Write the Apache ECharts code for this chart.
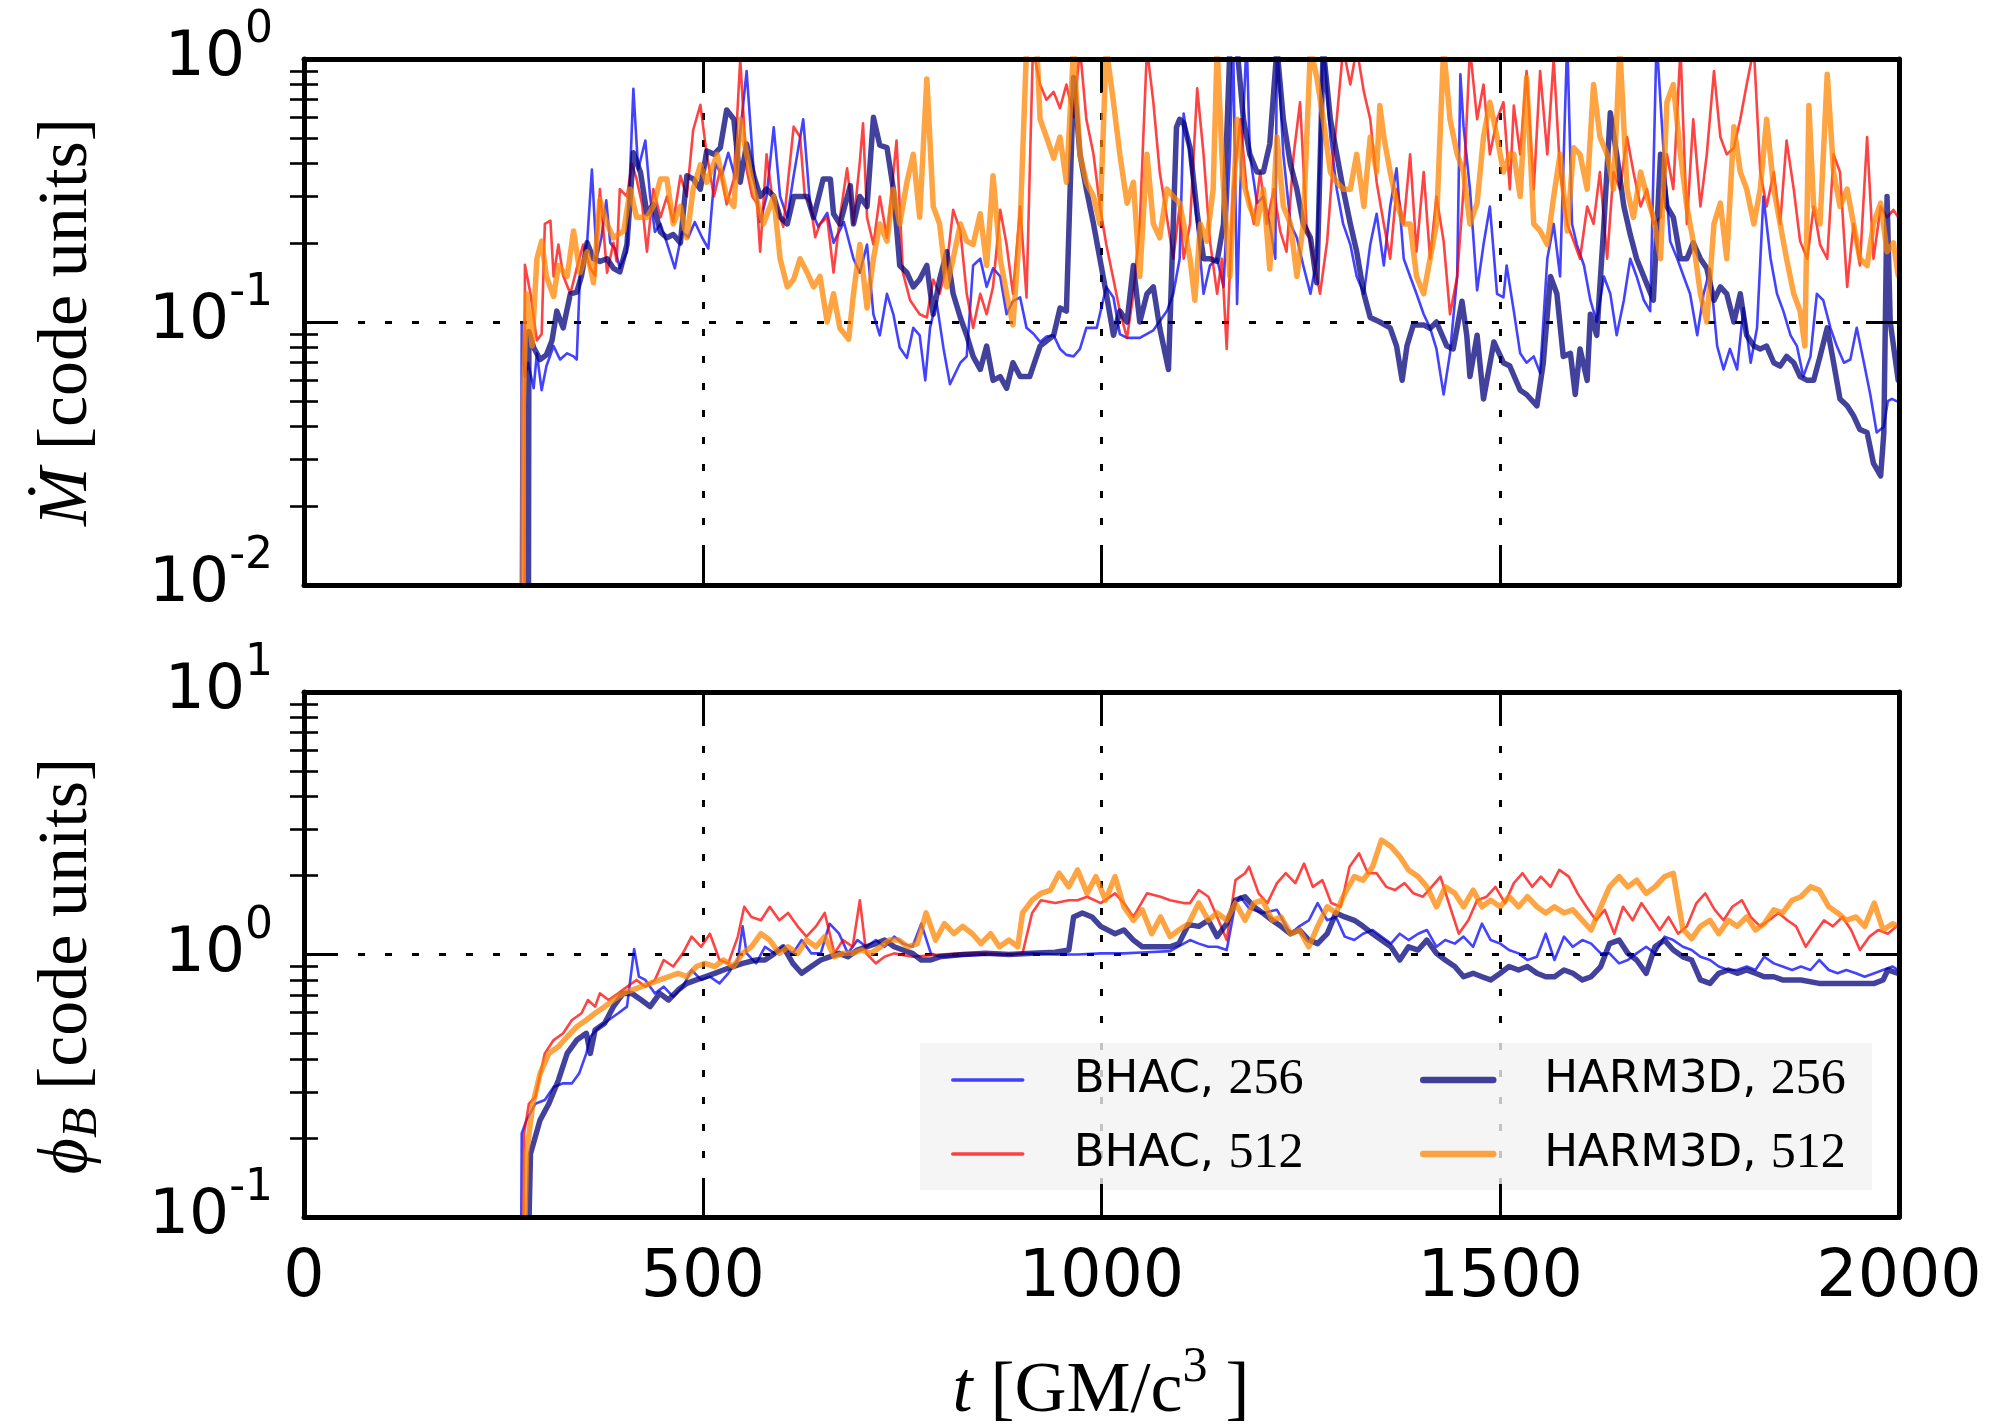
<!DOCTYPE html>
<html>
<head>
<meta charset="utf-8">
<script src="https://cdn.jsdelivr.net/npm/echarts@6/dist/echarts.min.js"></script>
<style>
html,body{margin:0;padding:0;background:#ffffff;}
#chart{width:2002px;height:1426px;}
</style>
</head>
<body>
<div id="chart"></div>
<script>
// ---------------- data (t [GM/c^3], value) ----------------
const xTickValues = [0, 500, 1000, 1500, 2000];
const mdotRange = [0.01, 1];
const phiRange = [0.1, 10];
const mdotMinorTicks = [0.02,0.03,0.04,0.05,0.06,0.07,0.08,0.09,0.2,0.3,0.4,0.5,0.6,0.7,0.8,0.9];
const phiMinorTicks = [0.2,0.3,0.4,0.5,0.6,0.7,0.8,0.9,2,3,4,5,6,7,8,9];
const seriesNames = ['BHAC, 256', 'BHAC, 512', 'HARM3D, 256', 'HARM3D, 512'];

const mdot_bhac256 = [[271,0.001],[273,0.098],[277,0.062],[281,0.07],[288,0.056],[292,0.076],[298,0.055],[304,0.068],[313,0.081],[321,0.072],[330,0.076],[338,0.074],[342,0.072],[346,0.15],[355,0.2],[361,0.38],[367,0.174],[373,0.21],[379,0.29],[384,0.2],[390,0.19],[396,0.16],[405,0.185],[413,0.77],[419,0.38],[428,0.49],[434,0.3],[440,0.22],[447,0.236],[455,0.2],[465,0.16],[474,0.22],[482,0.21],[490,0.24],[499,0.21],[507,0.19],[516,0.4],[524,0.36],[532,0.44],[541,0.35],[555,0.9],[564,0.37],[572,0.24],[580,0.3],[589,0.55],[597,0.3],[606,0.25],[614,0.36],[626,0.59],[635,0.27],[645,0.23],[656,0.26],[664,0.2],[677,0.24],[689,0.174],[697,0.154],[706,0.197],[714,0.107],[722,0.089],[731,0.128],[739,0.107],[747,0.08],[756,0.073],[764,0.095],[772,0.089],[779,0.06],[785,0.095],[793,0.12],[802,0.079],[810,0.058],[823,0.07],[831,0.074],[839,0.164],[848,0.174],[856,0.136],[864,0.16],[873,0.149],[881,0.107],[889,0.12],[898,0.124],[906,0.095],[915,0.09],[923,0.084],[931,0.088],[940,0.089],[948,0.079],[956,0.075],[965,0.074],[973,0.079],[981,0.095],[994,0.095],[1006,0.136],[1015,0.124],[1023,0.09],[1032,0.087],[1048,0.087],[1065,0.093],[1082,0.11],[1090,0.128],[1098,0.174],[1103,0.62],[1111,0.434],[1120,0.236],[1128,0.128],[1136,0.164],[1145,0.174],[1153,0.136],[1161,0.434],[1165,1.2],[1170,0.117],[1174,0.32],[1182,1.2],[1186,0.434],[1195,0.283],[1203,0.3],[1211,0.236],[1218,0.174],[1220,1.2],[1228,0.434],[1237,0.236],[1245,0.209],[1253,0.164],[1262,0.128],[1270,0.174],[1278,1.2],[1287,0.505],[1295,0.32],[1303,0.236],[1312,0.197],[1320,0.149],[1329,0.128],[1337,0.197],[1345,0.258],[1354,0.164],[1362,0.275],[1370,0.384],[1379,0.174],[1387,0.149],[1395,0.128],[1404,0.107],[1412,0.095],[1420,0.079],[1429,0.053],[1437,0.076],[1446,0.149],[1450,0.875],[1454,0.553],[1462,0.32],[1471,0.132],[1479,0.197],[1487,0.275],[1496,0.128],[1504,0.124],[1508,0.164],[1517,0.11],[1525,0.076],[1533,0.07],[1542,0.074],[1550,0.064],[1559,0.174],[1567,0.236],[1575,0.149],[1584,1.2],[1590,0.236],[1596,0.197],[1605,0.164],[1613,0.121],[1621,0.1],[1630,0.149],[1638,0.128],[1646,0.089],[1655,0.121],[1663,0.174],[1671,0.149],[1680,0.121],[1688,0.11],[1696,1.2],[1705,0.434],[1713,0.203],[1722,0.174],[1730,0.149],[1738,0.128],[1747,0.089],[1755,0.128],[1763,0.159],[1772,0.081],[1780,0.066],[1788,0.079],[1797,0.066],[1805,0.113],[1814,0.07],[1822,0.095],[1830,0.3],[1839,0.174],[1847,0.128],[1855,0.11],[1864,0.089],[1872,0.081],[1880,0.062],[1889,0.074],[1897,0.128],[1905,0.121],[1914,0.095],[1922,0.081],[1931,0.07],[1939,0.072],[1947,0.095],[1956,0.07],[1964,0.053],[1972,0.038],[1981,0.04],[1986,0.05],[1991,0.051],[1997,0.05]];

const mdot_bhac512 = [[276,0.001],[277,0.165],[284,0.128],[292,0.085],[298,0.09],[302,0.236],[309,0.243],[313,0.149],[319,0.197],[325,0.15],[334,0.128],[342,0.16],[350,0.197],[359,0.16],[365,0.15],[371,0.32],[380,0.154],[388,0.2],[392,0.17],[396,0.32],[405,0.3],[411,0.4],[417,0.35],[424,0.28],[430,0.185],[438,0.32],[447,0.25],[455,0.3],[463,0.24],[472,0.36],[480,0.3],[488,0.537],[497,0.67],[505,0.434],[514,0.3],[522,0.38],[530,0.28],[539,0.35],[547,1.0],[555,0.38],[562,0.3],[568,0.283],[572,0.185],[580,0.434],[587,0.3],[593,0.275],[601,0.23],[614,0.553],[622,0.505],[628,0.3],[635,0.283],[641,0.21],[647,0.236],[656,0.25],[664,0.154],[672,0.25],[681,0.384],[689,0.236],[697,0.408],[701,0.57],[706,0.25],[714,0.197],[722,0.3],[731,0.209],[743,0.49],[751,0.154],[760,0.121],[772,0.107],[781,0.104],[789,0.145],[797,0.128],[806,0.164],[814,0.267],[823,0.222],[831,0.128],[839,0.095],[848,0.128],[856,0.107],[864,0.136],[873,0.267],[881,0.197],[889,0.128],[898,0.275],[906,0.124],[914,1.1],[923,0.8],[931,0.7],[940,0.75],[948,0.65],[956,0.8],[965,0.6],[973,1.1],[981,0.59],[990,0.434],[998,0.275],[1006,0.197],[1015,0.145],[1023,0.11],[1032,0.087],[1040,0.128],[1048,0.236],[1057,1.1],[1065,0.685],[1073,0.372],[1082,0.25],[1090,0.174],[1098,0.275],[1103,0.174],[1111,0.236],[1120,0.774],[1128,0.434],[1136,0.203],[1145,0.128],[1151,0.174],[1157,0.079],[1165,0.32],[1174,0.59],[1182,0.32],[1191,0.236],[1199,0.372],[1207,0.236],[1216,0.32],[1224,0.222],[1232,0.185],[1241,0.434],[1249,0.685],[1257,0.236],[1266,0.174],[1274,0.128],[1283,0.203],[1291,0.434],[1303,1.1],[1312,0.8],[1320,1.1],[1329,0.75],[1337,0.59],[1345,0.34],[1354,0.236],[1362,0.174],[1370,0.32],[1379,0.236],[1387,0.434],[1395,0.185],[1404,0.372],[1412,0.174],[1420,0.3],[1429,0.203],[1437,0.107],[1446,0.149],[1454,0.32],[1462,1.1],[1471,0.59],[1479,0.8],[1487,0.434],[1496,0.59],[1504,0.685],[1512,0.32],[1517,0.665],[1525,0.434],[1533,0.9],[1542,0.32],[1550,0.9],[1559,0.434],[1567,1.0],[1575,0.372],[1584,0.236],[1592,0.203],[1600,0.174],[1609,0.275],[1617,0.236],[1625,0.372],[1634,0.174],[1642,0.372],[1650,0.32],[1659,0.505],[1667,0.372],[1676,0.275],[1684,0.32],[1692,0.236],[1701,0.25],[1709,0.434],[1717,0.32],[1726,1.1],[1734,0.236],[1742,0.59],[1751,0.275],[1759,0.434],[1768,0.9],[1776,0.505],[1784,0.434],[1793,0.46],[1801,0.59],[1809,0.8],[1818,1.1],[1826,0.372],[1834,0.275],[1843,0.372],[1851,0.236],[1859,0.49],[1868,0.32],[1876,0.203],[1885,0.174],[1893,0.275],[1901,0.197],[1910,0.174],[1918,0.434],[1926,0.372],[1935,0.136],[1943,0.236],[1951,0.164],[1960,0.505],[1968,0.174],[1977,0.275],[1985,0.25],[1993,0.267],[1999,0.25]];

const mdot_harm256 = [[281,0.001],[282,0.092],[288,0.08],[296,0.072],[304,0.075],[311,0.085],[317,0.11],[325,0.095],[334,0.128],[342,0.13],[348,0.15],[355,0.2],[363,0.174],[371,0.17],[380,0.174],[388,0.16],[396,0.155],[405,0.197],[413,0.44],[422,0.37],[430,0.258],[438,0.28],[447,0.22],[455,0.209],[463,0.215],[472,0.2],[480,0.36],[488,0.35],[497,0.32],[505,0.447],[514,0.434],[522,0.46],[530,0.64],[539,0.59],[547,0.34],[555,0.475],[564,0.36],[572,0.3],[580,0.32],[589,0.3],[597,0.25],[606,0.236],[614,0.3],[622,0.3],[631,0.3],[639,0.25],[651,0.35],[660,0.35],[664,0.258],[672,0.236],[685,0.33],[689,0.236],[697,0.3],[706,0.275],[714,0.6],[722,0.47],[731,0.46],[739,0.32],[747,0.164],[756,0.154],[764,0.136],[772,0.145],[781,0.164],[789,0.107],[797,0.145],[806,0.185],[814,0.128],[823,0.104],[831,0.089],[839,0.074],[848,0.066],[856,0.081],[864,0.06],[873,0.062],[881,0.056],[889,0.07],[898,0.062],[910,0.062],[923,0.081],[940,0.089],[948,0.113],[956,0.11],[965,0.85],[973,0.434],[981,0.32],[990,0.236],[998,0.174],[1006,0.128],[1015,0.089],[1023,0.11],[1032,0.1],[1040,0.164],[1048,0.1],[1057,0.128],[1065,0.136],[1073,0.095],[1084,0.066],[1090,0.236],[1094,0.55],[1098,0.59],[1103,0.57],[1111,0.46],[1120,0.258],[1128,0.174],[1136,0.174],[1145,0.17],[1153,0.236],[1161,1.1],[1170,1.1],[1178,0.59],[1186,0.434],[1195,0.372],[1203,0.372],[1211,0.475],[1220,1.1],[1228,0.59],[1237,0.396],[1245,0.32],[1253,0.236],[1262,0.209],[1270,0.141],[1278,1.1],[1287,0.59],[1295,0.434],[1303,0.32],[1312,0.236],[1320,0.185],[1329,0.128],[1337,0.104],[1349,0.1],[1362,0.095],[1370,0.081],[1377,0.06],[1383,0.081],[1391,0.0975],[1404,0.0975],[1412,0.0946],[1420,0.1],[1433,0.081],[1441,0.079],[1452,0.12],[1458,0.089],[1462,0.062],[1471,0.089],[1479,0.051],[1492,0.084],[1504,0.07],[1512,0.068],[1525,0.055],[1533,0.053],[1546,0.048],[1554,0.07],[1563,0.149],[1571,0.128],[1579,0.074],[1588,0.076],[1594,0.053],[1600,0.079],[1609,0.06],[1613,0.107],[1621,0.089],[1630,0.236],[1638,0.625],[1646,0.434],[1655,0.275],[1663,0.215],[1671,0.174],[1680,0.149],[1692,0.121],[1701,0.434],[1709,0.275],[1717,0.25],[1726,0.174],[1734,0.174],[1742,0.2],[1751,0.174],[1759,0.16],[1768,0.121],[1776,0.136],[1784,0.128],[1793,0.1],[1801,0.128],[1809,0.089],[1818,0.081],[1826,0.079],[1834,0.081],[1843,0.07],[1851,0.068],[1859,0.074],[1868,0.07],[1876,0.062],[1885,0.06],[1893,0.06],[1901,0.074],[1910,0.095],[1918,0.07],[1926,0.051],[1935,0.048],[1943,0.044],[1951,0.039],[1960,0.038],[1968,0.029],[1977,0.026],[1981,0.038],[1985,0.3],[1989,0.1],[1999,0.06]];

const mdot_harm512 = [[274,0.001],[275,0.05],[279,0.128],[286,0.081],[292,0.174],[298,0.203],[304,0.149],[313,0.125],[319,0.164],[330,0.149],[338,0.222],[346,0.154],[355,0.185],[363,0.141],[371,0.292],[380,0.236],[388,0.209],[401,0.222],[409,0.32],[417,0.25],[430,0.25],[438,0.275],[447,0.35],[455,0.35],[463,0.236],[472,0.275],[480,0.209],[488,0.32],[497,0.396],[505,0.34],[518,0.434],[530,0.3],[539,0.275],[547,0.59],[555,0.434],[564,0.32],[576,0.236],[589,0.3],[597,0.174],[606,0.136],[614,0.145],[622,0.174],[631,0.154],[639,0.136],[647,0.149],[656,0.1],[664,0.128],[672,0.0946],[683,0.086],[689,0.128],[697,0.197],[706,0.113],[714,0.174],[722,0.236],[731,0.203],[739,0.32],[747,0.236],[756,0.34],[764,0.434],[772,0.25],[781,0.84],[789,0.275],[797,0.236],[806,0.136],[814,0.174],[823,0.236],[831,0.203],[839,0.197],[848,0.258],[856,0.164],[864,0.36],[873,0.174],[881,0.128],[889,0.0975],[898,0.236],[906,1.1],[919,1.1],[923,0.59],[931,0.505],[940,0.42],[948,0.505],[956,0.34],[965,1.1],[973,0.434],[981,0.34],[990,0.3],[998,0.236],[1006,1.1],[1015,0.685],[1023,0.434],[1032,0.283],[1040,0.34],[1048,0.149],[1057,0.434],[1065,0.236],[1073,0.209],[1082,0.32],[1090,0.3],[1098,0.283],[1103,0.236],[1111,0.174],[1117,0.121],[1124,0.236],[1132,0.203],[1140,0.32],[1145,1.1],[1153,0.32],[1161,0.149],[1170,0.59],[1178,0.34],[1186,0.275],[1195,0.236],[1203,0.32],[1211,0.159],[1220,0.505],[1228,0.275],[1237,0.236],[1245,0.149],[1253,0.236],[1262,1.1],[1270,0.85],[1278,0.59],[1287,0.372],[1295,0.34],[1303,0.32],[1312,0.32],[1320,0.434],[1329,0.275],[1337,0.505],[1345,0.372],[1349,0.665],[1354,0.505],[1362,0.372],[1370,0.283],[1379,0.236],[1387,0.236],[1395,0.149],[1404,0.128],[1412,0.174],[1420,0.236],[1429,1.1],[1437,0.59],[1446,0.434],[1454,0.372],[1462,0.236],[1471,0.283],[1479,0.505],[1487,0.685],[1496,0.505],[1504,0.372],[1512,0.434],[1517,0.434],[1525,0.3],[1533,0.85],[1542,0.236],[1550,0.222],[1559,0.197],[1567,0.3],[1575,0.434],[1584,0.222],[1592,0.46],[1600,0.434],[1609,0.32],[1617,0.8],[1625,0.505],[1634,0.434],[1642,0.32],[1650,1.1],[1659,0.32],[1667,0.25],[1676,0.372],[1684,0.3],[1692,0.25],[1701,0.174],[1709,0.685],[1717,0.8],[1726,0.434],[1734,0.275],[1742,0.203],[1751,0.128],[1759,0.1],[1768,0.236],[1776,0.283],[1784,0.174],[1793,0.553],[1801,0.372],[1809,0.32],[1818,0.236],[1826,0.32],[1834,0.59],[1843,0.32],[1851,0.236],[1859,0.174],[1868,0.128],[1876,0.11],[1882,0.081],[1887,0.665],[1893,0.275],[1901,0.236],[1910,0.875],[1918,0.372],[1926,0.275],[1935,0.32],[1943,0.236],[1951,0.174],[1960,0.164],[1968,0.236],[1977,0.283],[1985,0.185],[1993,0.2],[1999,0.15]];

const phi_bhac256 = [[272,0.05],[273,0.208],[279,0.234],[290,0.27],[302,0.279],[313,0.313],[325,0.323],[336,0.323],[345,0.352],[354,0.42],[359,0.486],[371,0.531],[382,0.563],[394,0.597],[405,0.633],[414,1.05],[420,0.823],[428,0.8],[440,0.711],[451,0.754],[463,0.69],[475,0.754],[486,0.873],[498,0.8],[509,0.823],[521,0.776],[532,0.848],[544,0.953],[550,1.28],[555,1.01],[567,0.925],[578,1.07],[590,1.01],[601,1.07],[613,1.01],[624,1.135],[636,1.01],[648,1.01],[659,1.31],[671,1.2],[682,1.01],[694,1.135],[705,1.07],[717,1.135],[728,1.07],[740,1.17],[751,1.1],[763,1.07],[774,1.31],[786,1.01],[797,0.98],[826,0.99],[855,1.0],[884,1.0],[913,1.01],[942,1.0],[970,1.0],[999,1.01],[1028,1.01],[1057,1.02],[1086,1.03],[1111,1.135],[1122,1.1],[1134,1.07],[1145,1.07],[1157,1.04],[1168,1.57],[1174,1.66],[1185,1.5],[1202,1.44],[1220,1.48],[1237,1.2],[1248,1.28],[1260,1.35],[1271,1.57],[1283,1.35],[1294,1.39],[1305,1.17],[1317,1.135],[1328,1.2],[1340,1.24],[1351,1.17],[1363,1.1],[1374,1.2],[1385,1.135],[1397,1.2],[1408,1.24],[1420,1.07],[1431,1.135],[1443,1.1],[1454,1.17],[1466,1.07],[1477,1.31],[1488,1.135],[1500,1.1],[1511,1.04],[1523,1.01],[1534,0.953],[1546,0.98],[1557,1.2],[1568,0.953],[1580,1.17],[1591,1.07],[1603,1.135],[1614,1.1],[1626,1.01],[1637,1.01],[1649,0.925],[1660,0.953],[1671,1.01],[1683,1.07],[1694,1.01],[1706,1.17],[1717,1.135],[1729,1.07],[1740,1.04],[1751,0.98],[1763,0.953],[1774,0.9],[1786,0.873],[1797,0.873],[1809,0.9],[1820,0.873],[1831,0.98],[1843,0.925],[1854,0.9],[1866,0.873],[1877,0.9],[1889,0.873],[1900,0.953],[1912,0.873],[1923,0.848],[1934,0.873],[1946,0.848],[1957,0.823],[1969,0.848],[1980,0.873],[1992,0.9],[1999,0.873]];

const phi_bhac512 = [[275,0.05],[276,0.208],[282,0.27],[290,0.287],[302,0.42],[313,0.472],[325,0.501],[336,0.563],[348,0.597],[356,0.671],[365,0.633],[371,0.711],[382,0.671],[394,0.711],[405,0.754],[417,0.8],[428,0.754],[440,0.8],[451,0.953],[463,0.9],[475,1.01],[486,1.17],[498,1.07],[509,1.2],[521,0.953],[532,0.925],[544,1.17],[552,1.52],[561,1.39],[573,1.35],[584,1.52],[596,1.35],[607,1.44],[619,1.28],[630,1.17],[642,1.28],[653,1.44],[665,1.01],[676,1.135],[688,1.07],[697,1.61],[705,1.01],[717,0.925],[728,0.98],[740,1.01],[763,0.98],[797,1.0],[826,1.01],[855,1.01],[884,1.0],[901,1.01],[913,1.44],[924,1.61],[942,1.57],[959,1.61],[970,1.61],[982,1.66],[999,1.57],[1017,1.71],[1028,1.57],[1040,1.39],[1057,1.71],[1074,1.66],[1086,1.61],[1103,1.57],[1111,1.57],[1122,1.76],[1134,1.66],[1145,1.39],[1157,1.135],[1168,1.92],[1180,2.04],[1185,2.16],[1197,1.71],[1208,1.57],[1220,1.87],[1231,2.04],[1243,1.87],[1254,2.22],[1265,1.81],[1277,1.92],[1288,1.57],[1300,1.52],[1311,2.16],[1323,2.43],[1334,2.04],[1345,2.04],[1357,1.81],[1368,1.76],[1380,1.87],[1391,1.71],[1403,1.66],[1414,1.81],[1425,1.98],[1437,1.52],[1448,1.2],[1460,1.35],[1471,1.61],[1483,1.66],[1494,1.81],[1506,1.57],[1517,1.87],[1528,2.04],[1540,1.81],[1551,1.98],[1563,1.81],[1574,2.1],[1586,1.98],[1597,1.71],[1608,1.52],[1620,1.35],[1631,1.48],[1643,1.2],[1654,1.52],[1666,1.35],[1677,1.57],[1689,1.39],[1700,1.24],[1711,1.39],[1723,1.2],[1734,1.28],[1746,1.57],[1757,1.71],[1769,1.48],[1780,1.35],[1791,1.52],[1803,1.61],[1814,1.39],[1826,1.28],[1837,1.35],[1849,1.44],[1860,1.35],[1871,1.28],[1883,1.07],[1894,1.2],[1906,1.35],[1917,1.28],[1929,1.39],[1940,1.24],[1951,1.04],[1963,1.17],[1974,1.24],[1986,1.2],[1997,1.28]];

const phi_harm256 = [[280,0.05],[284,0.174],[296,0.234],[307,0.27],[319,0.332],[330,0.42],[342,0.472],[354,0.501],[359,0.42],[365,0.516],[377,0.547],[388,0.633],[400,0.711],[411,0.711],[423,0.671],[434,0.633],[446,0.711],[457,0.671],[469,0.732],[480,0.776],[492,0.8],[503,0.823],[515,0.848],[526,0.873],[538,0.9],[550,0.925],[567,0.953],[578,0.953],[590,1.01],[601,1.07],[613,0.925],[624,0.848],[636,0.9],[648,0.953],[659,0.98],[671,1.01],[682,0.98],[694,1.04],[705,1.07],[717,1.1],[728,1.135],[740,1.07],[751,1.04],[763,1.01],[774,0.953],[786,0.953],[797,0.98],[826,1.0],[855,1.01],[884,1.0],[913,1.01],[942,1.02],[959,1.04],[965,1.39],[976,1.44],[988,1.39],[999,1.28],[1017,1.2],[1028,1.24],[1040,1.135],[1051,1.07],[1068,1.07],[1086,1.07],[1097,1.1],[1109,1.3],[1122,1.28],[1134,1.35],[1145,1.17],[1157,1.31],[1168,1.61],[1180,1.66],[1191,1.52],[1202,1.44],[1214,1.35],[1225,1.28],[1237,1.2],[1248,1.24],[1260,1.135],[1271,1.1],[1283,1.2],[1294,1.44],[1305,1.39],[1317,1.35],[1328,1.28],[1340,1.2],[1351,1.135],[1363,1.07],[1374,0.953],[1385,1.07],[1397,1.04],[1408,1.135],[1420,1.01],[1431,0.953],[1443,0.9],[1454,0.823],[1466,0.848],[1477,0.823],[1488,0.8],[1500,0.848],[1511,0.9],[1523,0.873],[1534,0.9],[1546,0.848],[1557,0.823],[1568,0.823],[1580,0.873],[1591,0.848],[1603,0.8],[1614,0.823],[1626,0.9],[1637,1.1],[1649,1.135],[1660,1.01],[1671,0.953],[1683,0.848],[1694,1.07],[1706,1.135],[1717,1.04],[1729,0.98],[1740,0.953],[1751,0.8],[1763,0.776],[1774,0.848],[1786,0.873],[1797,0.848],[1809,0.873],[1820,0.848],[1831,0.823],[1843,0.823],[1854,0.8],[1877,0.8],[1900,0.776],[1923,0.776],[1946,0.776],[1969,0.776],[1980,0.8],[1986,0.873],[1999,0.848]];

const phi_harm512 = [[275,0.05],[279,0.174],[287,0.27],[296,0.352],[307,0.42],[319,0.446],[330,0.486],[342,0.531],[354,0.563],[365,0.597],[377,0.633],[388,0.671],[400,0.711],[411,0.732],[423,0.754],[434,0.776],[446,0.8],[457,0.823],[469,0.848],[480,0.823],[492,0.9],[503,0.925],[515,0.9],[526,0.953],[538,0.9],[550,1.01],[561,1.07],[573,1.2],[584,1.135],[596,1.01],[607,1.07],[619,1.01],[630,1.135],[642,1.07],[653,1.17],[665,0.98],[676,1.01],[688,1.01],[699,1.04],[711,1.01],[723,1.07],[734,1.135],[746,1.135],[757,1.07],[769,1.1],[780,1.44],[792,1.135],[803,1.31],[815,1.2],[826,1.28],[838,1.2],[849,1.1],[861,1.2],[872,1.07],[884,1.135],[895,1.07],[901,1.44],[913,1.61],[924,1.71],[936,1.76],[947,2.04],[959,1.81],[970,2.1],[982,1.71],[993,1.98],[1005,1.61],[1017,1.98],[1028,1.52],[1040,1.35],[1051,1.48],[1063,1.2],[1074,1.39],[1086,1.17],[1097,1.24],[1109,1.31],[1122,1.57],[1134,1.35],[1145,1.44],[1157,1.35],[1168,1.57],[1180,1.35],[1191,1.57],[1202,1.61],[1214,1.35],[1225,1.39],[1237,1.2],[1248,1.24],[1260,1.07],[1271,1.28],[1283,1.52],[1294,1.44],[1305,1.71],[1317,1.98],[1328,1.92],[1340,2.16],[1351,2.73],[1363,2.58],[1374,2.36],[1385,2.1],[1397,1.98],[1408,1.81],[1420,1.52],[1431,1.81],[1443,1.71],[1454,1.52],[1466,1.76],[1477,1.52],[1488,1.61],[1500,1.52],[1511,1.66],[1523,1.52],[1534,1.66],[1546,1.52],[1557,1.44],[1568,1.52],[1580,1.44],[1591,1.48],[1603,1.35],[1614,1.24],[1626,1.52],[1637,1.81],[1649,1.98],[1660,1.81],[1671,1.92],[1683,1.71],[1694,1.81],[1706,1.98],[1717,2.04],[1729,1.25],[1740,1.15],[1751,1.28],[1763,1.35],[1774,1.2],[1786,1.35],[1797,1.28],[1809,1.39],[1820,1.24],[1831,1.31],[1843,1.48],[1854,1.44],[1866,1.61],[1877,1.66],[1889,1.81],[1900,1.76],[1912,1.52],[1923,1.44],[1934,1.35],[1946,1.39],[1957,1.28],[1969,1.57],[1980,1.24],[1992,1.31],[1999,1.28]];

const mdotSeries = [mdot_bhac256, mdot_bhac512, mdot_harm256, mdot_harm512];
const phiSeries = [phi_bhac256, phi_bhac512, phi_harm256, phi_harm512];

// ---------------- styles ----------------
const BLACK = '#000000';
const lineStyles = [
  {color: '#0000ff', width: 2.6, legendWidth: 3.5},
  {color: '#ff0000', width: 2.6, legendWidth: 3.5},
  {color: '#00007a', width: 5.5, legendWidth: 6.5},
  {color: '#ff8400', width: 5.5, legendWidth: 6.5}
];
const LINE_OPACITY = 0.74;
const dotted = {color: BLACK, width: 3, type: [7, 20]};
const SANS = "'DejaVu Sans', sans-serif";
const SERIF = "'Liberation Serif', 'DejaVu Serif', serif";

function powLabel(v) {
  const e = Math.round(Math.log10(v));
  return '{b|10}{s|' + e + '}';
}
const powRich = {
  b: {fontFamily: SANS, fontSize: 63, lineHeight: 63, color: BLACK, verticalAlign: 'middle'},
  s: {fontFamily: SANS, fontSize: 44, lineHeight: 44, color: BLACK, verticalAlign: 'middle', padding: [0, 0, 56, 0]}
};

function xAxesFor(gi, withLabels) {
  const base = {type: 'value', gridIndex: gi, min: xTickValues[0], max: xTickValues[xTickValues.length - 1], interval: 500};
  const line = {show: true, onZero: false, lineStyle: {color: BLACK, width: 5}};
  const tick = {show: true, inside: true, length: 33, lineStyle: {color: BLACK, width: 3}};
  return [
    Object.assign({}, base, {position: 'bottom', z: 0, axisLine: {show: false}, axisTick: {show: false},
      axisLabel: {show: false}, splitLine: {show: true, lineStyle: dotted}}),
    Object.assign({}, base, {position: 'bottom', z: 5, axisLine: line, axisTick: tick,
      axisLabel: {show: withLabels, margin: 30, color: BLACK, fontFamily: SANS, fontSize: 65, lineHeight: 65,
        formatter: function (v) { return String(v); }},
      splitLine: {show: false}}),
    Object.assign({}, base, {position: 'top', z: 5, axisLine: line, axisTick: tick,
      axisLabel: {show: false}, splitLine: {show: false}})
  ];
}

function yAxesFor(gi, range, minorVals) {
  const base = {type: 'log', logBase: 10, gridIndex: gi, min: range[0], max: range[1]};
  const line = {show: true, onZero: false, lineStyle: {color: BLACK, width: 5}};
  const major = {show: true, inside: true, length: 33, lineStyle: {color: BLACK, width: 3}};
  const minor = {show: true, inside: true, length: 14, customValues: minorVals, lineStyle: {color: BLACK, width: 2.6}};
  return [
    Object.assign({}, base, {position: 'left', z: 0, axisLine: {show: false}, axisTick: {show: false},
      axisLabel: {show: false}, splitLine: {show: true, lineStyle: dotted}}),
    Object.assign({}, base, {position: 'left', z: 5, axisLine: line, axisTick: major,
      axisLabel: {show: true, margin: 31, color: BLACK, formatter: powLabel, rich: powRich}, splitLine: {show: false}}),
    Object.assign({}, base, {position: 'left', z: 5, axisLine: {show: false}, axisTick: minor,
      axisLabel: {show: false}, splitLine: {show: false}}),
    Object.assign({}, base, {position: 'right', z: 5, axisLine: line, axisTick: major,
      axisLabel: {show: false}, splitLine: {show: false}}),
    Object.assign({}, base, {position: 'right', z: 5, axisLine: {show: false}, axisTick: minor,
      axisLabel: {show: false}, splitLine: {show: false}})
  ];
}

const xAxes = xAxesFor(0, false).concat(xAxesFor(1, true));
const yAxes = yAxesFor(0, mdotRange, mdotMinorTicks).concat(yAxesFor(1, phiRange, phiMinorTicks));

function makeSeries(name, data, idx, xi, yi) {
  const st = lineStyles[idx];
  return {
    name: name, type: 'line', data: data, xAxisIndex: xi, yAxisIndex: yi,
    symbol: 'none', showSymbol: false, smooth: false, clip: true, silent: true,
    emphasis: {disabled: true},
    itemStyle: {color: st.color, opacity: LINE_OPACITY},
    lineStyle: {color: st.color, width: st.width, opacity: LINE_OPACITY, join: 'round', cap: 'round'},
    z: 2
  };
}

const series = [];
seriesNames.forEach((n, i) => series.push(makeSeries(n, mdotSeries[i], i, 1, 1)));
seriesNames.forEach((n, i) => series.push(makeSeries(n, phiSeries[i], i, 4, 6)));

function legendFmt(name) {
  const parts = name.split(', ');
  return '{g| }{a|' + parts[0] + ', }{b|' + parts[1] + '}';
}
const legendText = {
  color: BLACK, fontSize: 45, lineHeight: 46,
  rich: {
    g: {width: 46, fontSize: 45, lineHeight: 46},
    a: {fontFamily: SANS, fontSize: 45, lineHeight: 46, color: BLACK},
    b: {fontFamily: SERIF, fontSize: 50, lineHeight: 46, color: BLACK}
  }
};
function legendItem(idx) {
  const st = lineStyles[idx];
  return {name: seriesNames[idx], itemStyle: {opacity: 0},
    lineStyle: {color: st.color, width: st.legendWidth, opacity: LINE_OPACITY}};
}
function legendAt(left, idxs) {
  return {
    show: true, orient: 'vertical', left: left, top: 1055, padding: 0,
    itemWidth: 70, itemHeight: 14, itemGap: 24, selectedMode: false,
    itemStyle: {opacity: 0},
    data: idxs.map(legendItem), formatter: legendFmt, textStyle: legendText, z: 6
  };
}

const option = {
  animation: false,
  backgroundColor: '#ffffff',
  textStyle: {fontFamily: SANS},
  grid: [
    {left: 304, top: 59, width: 1595, height: 526, containLabel: false, outerBoundsMode: 'none'},
    {left: 304, top: 692, width: 1595, height: 525, containLabel: false, outerBoundsMode: 'none'}
  ],
  xAxis: xAxes,
  yAxis: yAxes,
  legend: [legendAt(951, [0, 1]), legendAt(1420, [2, 3])],
  series: series,
  graphic: [
    {type: 'rect', z: 4, silent: true,
      shape: {x: 920, y: 1043, width: 952, height: 147},
      style: {fill: 'rgba(242,242,242,0.8)'}},
    {type: 'text', z: 6, x: 68, y: 322, rotation: Math.PI / 2, silent: true,
      style: {text: '{m|Ṁ}{r| [code units]}', align: 'center', verticalAlign: 'middle', fill: BLACK,
        rich: {m: {fontFamily: SERIF, fontStyle: 'italic', fontSize: 70, verticalAlign: 'middle'},
               r: {fontFamily: SERIF, fontSize: 70, verticalAlign: 'middle'}}}},
    {type: 'text', z: 6, x: 68, y: 966, rotation: Math.PI / 2, silent: true,
      style: {text: '{m|ϕ}{u|B}{r| [code units]}', align: 'center', verticalAlign: 'middle', fill: BLACK,
        rich: {m: {fontFamily: SERIF, fontStyle: 'italic', fontSize: 70, verticalAlign: 'middle'},
               u: {fontFamily: SERIF, fontStyle: 'italic', fontSize: 50, verticalAlign: 'middle', padding: [30, 0, 0, 0]},
               r: {fontFamily: SERIF, fontSize: 70, verticalAlign: 'middle'}}}},
    {type: 'text', z: 6, x: 1101, y: 1392, silent: true,
      style: {text: '{i|t}{r| [GM/c}{s|3}{r| ]}', align: 'center', verticalAlign: 'middle', fill: BLACK,
        rich: {i: {fontFamily: SERIF, fontStyle: 'italic', fontSize: 72, verticalAlign: 'middle'},
               r: {fontFamily: SERIF, fontSize: 72, verticalAlign: 'middle'},
               s: {fontFamily: SERIF, fontSize: 50, verticalAlign: 'middle', padding: [0, 0, 48, 0]}}}}
  ]
};

const chart = echarts.init(document.getElementById('chart'), null, {renderer: 'canvas', width: 2002, height: 1426});
chart.setOption(option);
</script>
</body>
</html>
